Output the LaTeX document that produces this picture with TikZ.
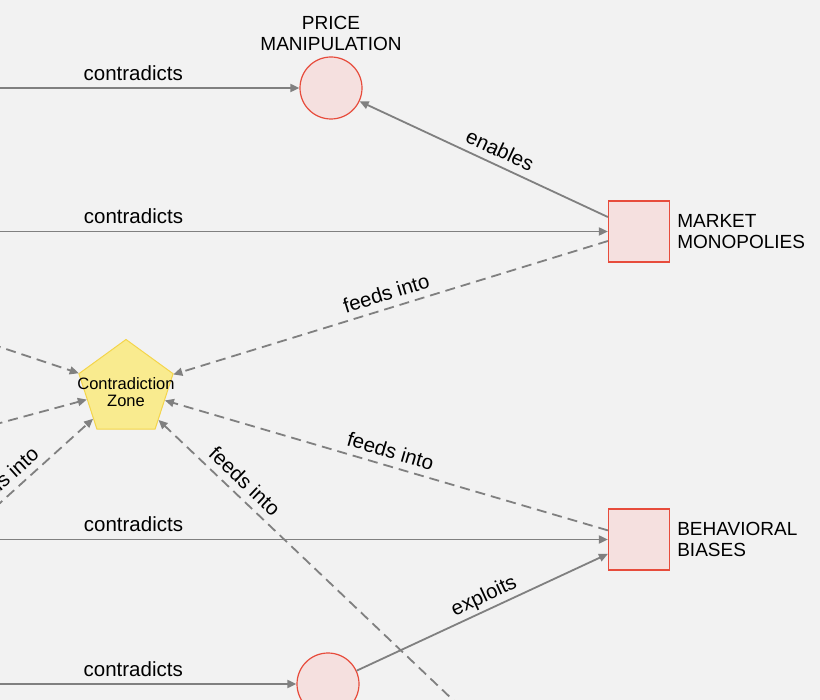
\documentclass[tikz,border=0pt]{standalone}
\usepackage{fontspec}
\setmainfont{Liberation Sans}
\usetikzlibrary{positioning, arrows.meta, shapes.geometric}
\definecolor{bg}{HTML}{F2F2F2}
\definecolor{edgegray}{HTML}{808080}
\definecolor{nodered}{HTML}{E74C3C}
\definecolor{nodepink}{HTML}{F5E0DF}
\definecolor{zonefill}{HTML}{F9EB8F}
\definecolor{zoneline}{HTML}{F4D54B}
\tikzset{
  risk/.style={circle, draw=nodered, fill=nodepink, line width=1.2pt, minimum size=62pt, inner sep=0pt},
  factor/.style={rectangle, draw=nodered, fill=nodepink, line width=1.2pt, minimum size=61pt, inner sep=0pt},
  zonebox/.style={regular polygon, regular polygon sides=5, draw=zoneline, fill=zonefill, line width=1pt,
    minimum size=99pt, inner sep=0pt},
  zonetext/.style={align=center, inner sep=0pt, font=\fontsize{16.5}{16.5}\selectfont},
  tag/.style={font=\fontsize{19}{20.7}\selectfont, align=left, inner sep=0pt},
  rel/.style={draw=edgegray, line width=1.8pt, -{Triangle[length=9pt,width=8pt]}},
  feed/.style={rel, dash pattern=on 10pt off 6pt},
  lbl/.style={sloped, above, font=\fontsize{20.5}{20.5}\selectfont, text height=14pt, text depth=4pt, inner sep=3pt},
}

\begin{document}
\begin{tikzpicture}[x=1pt, y=-1pt]
  \useasboundingbox (0,0) rectangle (820,700);
  \fill[bg] (0,0) rectangle (820,700);
  \clip (0,0) rectangle (820,700);
  % nodes
  \node[zonebox] (zone) at (126,389) {};
  \node[zonetext] (zonetag) at ([yshift=-3pt]zone.center) {Contradiction\\Zone};
  \node[risk] (price) at (331,88) {};
  \node[risk] (lower) at (328,684) {};
  \node[factor] (market) at (639,231.5) {};
  \node[factor] (biases) at (639,539.5) {};
  \node[tag, align=center, above=6pt of price] (pricetag) {PRICE\\MANIPULATION};
  \node[tag, right=7pt of market] (markettag) {MARKET\\MONOPOLIES};
  \node[tag, right=7pt of biases] (biasestag) {BEHAVIORAL\\BIASES};
  % ends outside the frame
  \coordinate (c1) at (-33,88);
  \coordinate (c2) at (-341,231.5);
  \coordinate (c3) at (-341,539.5);
  \coordinate (c4) at (-30,684);
  \coordinate (f1) at (-100,313.7);
  \coordinate (f2) at (-100,450);
  \coordinate (f3) at (-100,593.5);
  \coordinate (f4) at (600,839.8);
  % edges
  \draw[rel] (c1) -- node[lbl] {contradicts} (price);
  \draw[rel] (c2) -- node[lbl] {contradicts} (market);
  \draw[rel] (c3) -- node[lbl] {contradicts} (biases);
  \draw[rel] (c4) -- node[lbl] {contradicts} (lower);
  \draw[rel] (market) -- node[lbl, pos=0.46] {enables} (price);
  \draw[rel] (lower) -- node[lbl, pos=0.53] {exploits} (biases);
  \draw[feed] (market) -- node[lbl] {feeds into} (zone);
  \draw[feed] (biases) -- node[lbl] {feeds into} (zone);
  \draw[feed] (f1) -- (zone);
  \draw[feed] (f2) -- (zone);
  \draw[feed] (f3) -- node[lbl, pos=0.583] {feeds into} (zone);
  \draw[feed] (f4) -- node[lbl, pos=0.828] {feeds into} (zone);
\end{tikzpicture}
\end{document}
